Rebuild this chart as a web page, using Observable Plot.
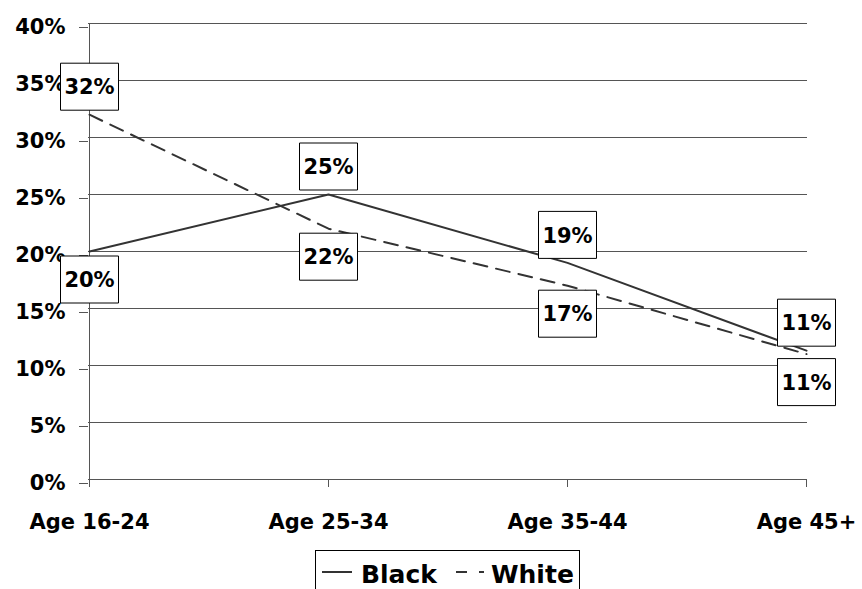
<!DOCTYPE html>
<html><head><meta charset="utf-8">
<script src="https://cdn.jsdelivr.net/npm/d3@7"></script>
<script src="https://cdn.jsdelivr.net/npm/@observablehq/plot@0.6"></script>
<style>
html,body{margin:0;padding:0;background:#fff;}
body{width:862px;height:589px;overflow:hidden;position:relative;font-family:"DejaVu Sans",sans-serif;}
#chart svg{display:block;}
#legend{position:absolute;left:315px;top:550px;width:265px;height:50px;border:1px solid #000;box-sizing:border-box;background:#fff;}
#legend .item{position:absolute;top:0;height:40px;display:flex;align-items:center;}
#legend span{font-weight:bold;font-size:25px;color:#000;line-height:1;}
</style></head><body>
<div id="chart"></div>
<div id="legend"></div>
<script>
const categories = ["Age 16-24", "Age 25-34", "Age 35-44", "Age 45+"];
const seriesNames = ["Black", "White"];
const blackValues = [0.20, 0.25, 0.19, 0.113];
const whiteValues = [0.32, 0.22, 0.17, 0.11];
const yTicks = [0, 0.05, 0.10, 0.15, 0.20, 0.25, 0.30, 0.35, 0.40];

const seriesValues = {Black: blackValues, White: whiteValues};
const rows = [];
for (const s of seriesNames) {
  const other = s === "Black" ? whiteValues : blackValues;
  seriesValues[s].forEach((v, i) => rows.push({series: s, cat: categories[i], value: v, above: v >= other[i]}));
}
const pct = d3.format(".0%");
const boxSymbol = {draw(ctx) { ctx.rect(-29, -23.5, 58, 47); }};
const lineColor = "#333";
const gridColor = "#555";
const font = "DejaVu Sans";

const labelMarks = (filter, dy) => [
  Plot.dot(rows.filter(filter), {x: "cat", y: "value", dy, symbol: boxSymbol, fill: "#fff", stroke: "#000", strokeWidth: 1, r: 10}),
  Plot.text(rows.filter(filter), {x: "cat", y: "value", dy: dy + 1, text: d => pct(d.value), fontSize: 21, fontWeight: "bold", fill: "#000", fontFamily: font})
];

const chart = Plot.plot({
  width: 862,
  height: 545,
  marginLeft: 88,
  marginRight: 55,
  marginTop: 23,
  marginBottom: 66,
  style: {fontFamily: font, background: "#fff"},
  x: {type: "point", domain: categories, padding: 0, label: null},
  y: {domain: [0, 0.4], label: null},
  marks: [
    Plot.gridY(yTicks, {stroke: gridColor, strokeOpacity: 1, strokeWidth: 1}),
    Plot.axisY(yTicks, {label: null, tickSize: 9, tickPadding: 14, tickFormat: pct, fontSize: 21, fontWeight: "bold", fill: "#000", stroke: gridColor, strokeWidth: 1, dy: 4}),
    Plot.axisX({label: null, tickSize: 8, tickPadding: 27, fontSize: 21, fontWeight: "bold", fill: "#000", stroke: gridColor}),
    Plot.ruleY([0], {stroke: gridColor, strokeWidth: 1}),
    Plot.ruleX([categories[0]], {y1: 0, y2: 0.4, stroke: gridColor, strokeWidth: 1}),
    Plot.line(rows.filter(d => d.series === "Black"), {x: "cat", y: "value", stroke: lineColor, strokeWidth: 2}),
    Plot.line(rows.filter(d => d.series === "White"), {x: "cat", y: "value", stroke: lineColor, strokeWidth: 2, strokeDasharray: "14,9"}),
    ...labelMarks(d => d.above, -28),
    ...labelMarks(d => !d.above, 28)
  ]
});
document.getElementById("chart").appendChild(chart);

// legend
const legend = document.getElementById("legend");
const items = [
  {name: seriesNames[0], dash: null, left: 6, textLeft: 45},
  {name: seriesNames[1], dash: "11,12,5,20", left: 140, textLeft: 175}
];
for (const it of items) {
  const sw = document.createElement("div");
  sw.className = "item";
  sw.style.left = it.left + "px";
  sw.innerHTML = `<svg width="30" height="40"><line x1="0" x2="30" y1="21" y2="21" stroke="${lineColor}" stroke-width="2" ${it.dash ? `stroke-dasharray="${it.dash}"` : ""}/></svg>`;
  legend.appendChild(sw);
  const tx = document.createElement("div");
  tx.className = "item";
  tx.style.left = it.textLeft + "px";
  tx.style.top = "3px";
  tx.innerHTML = `<span>${it.name}</span>`;
  legend.appendChild(tx);
}
</script>
</body></html>
